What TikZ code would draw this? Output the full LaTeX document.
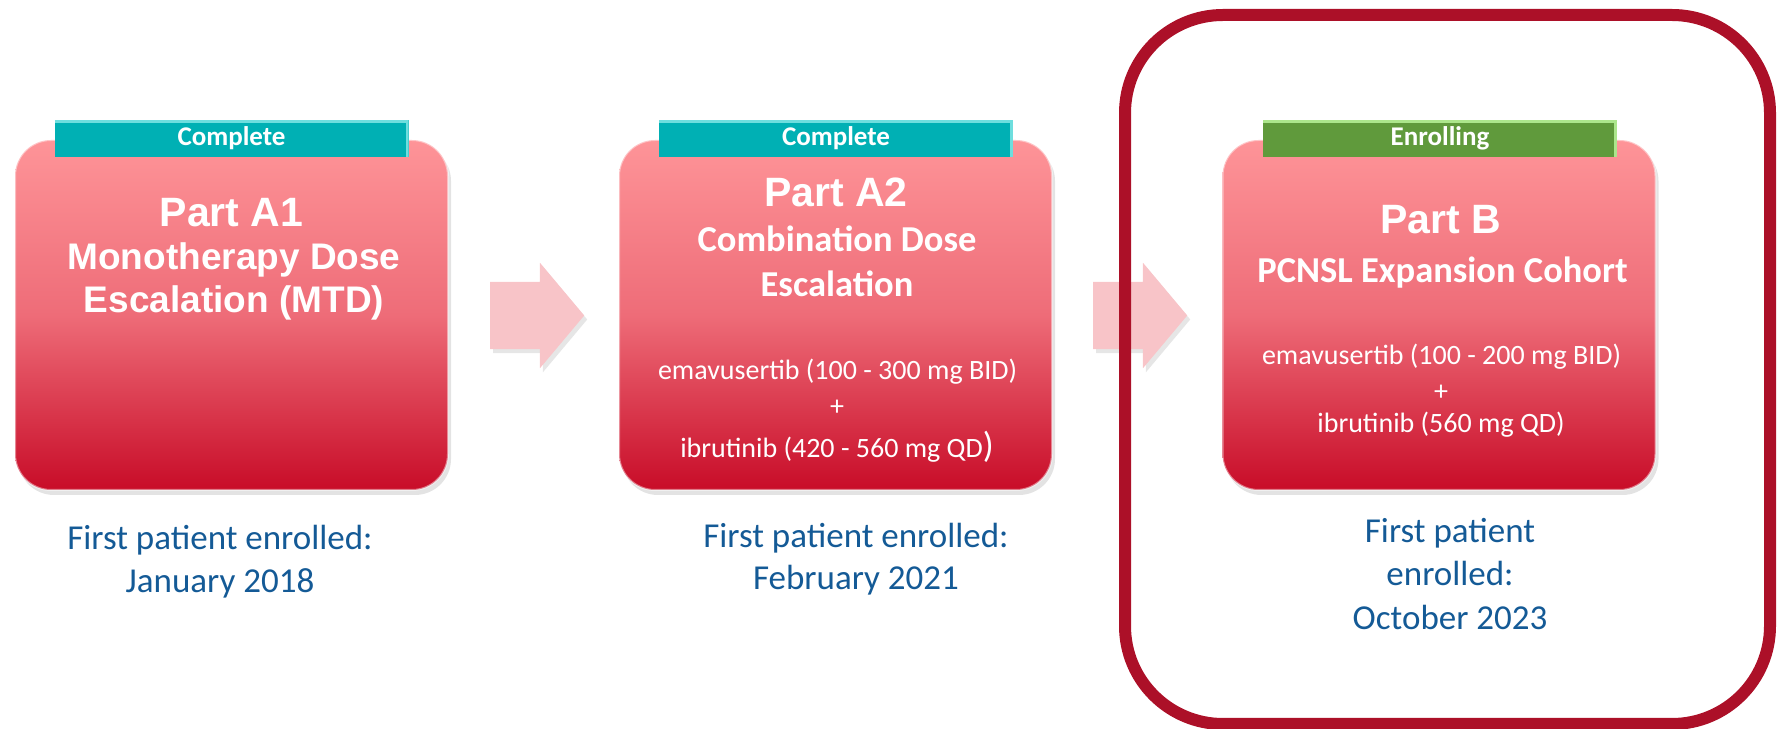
\documentclass[tikz,border=0pt]{standalone}
\usepackage{fontspec}
\setmainfont{Carlito}
\newfontfamily\arialfont{Liberation Sans}
\usetikzlibrary{shapes.arrows, shadows}

\definecolor{boxtop}{RGB}{254,148,152}
\definecolor{boxmid}{RGB}{238,108,120}
\definecolor{boxbot}{RGB}{200,12,40}
\definecolor{tealtag}{RGB}{0,176,180}
\definecolor{tealhi}{RGB}{110,222,222}
\definecolor{greentag}{RGB}{96,154,60}
\definecolor{greenhi}{RGB}{172,230,140}
\definecolor{arrowpink}{RGB}{248,196,200}
\definecolor{framered}{RGB}{172,16,40}
\definecolor{dateblue}{RGB}{20,90,150}

\tikzset{
  partbox/.style={rectangle, rounded corners=36bp, minimum width=433bp, minimum height=350bp,
    inner sep=0pt, top color=boxtop, bottom color=boxbot, middle color=boxmid,
    draw=white, draw opacity=0.45, line width=2bp,
    drop shadow={opacity=0.22, shadow xshift=3bp, shadow yshift=-5bp}},
  statustag/.style 2 args={rectangle, minimum width=354bp, minimum height=37bp, inner sep=0pt,
    fill=#1, text=white, font=\bfseries\fontsize{27bp}{30bp}\selectfont,
    path picture={
      \draw[#2, line width=3bp] ([yshift=-1.5bp]path picture bounding box.north west)
        -- ([yshift=-1.5bp,xshift=-1.5bp]path picture bounding box.north east)
        -- ([xshift=-1.5bp]path picture bounding box.south east);}},
  blockarrow/.style={single arrow, single arrow head extend=19bp, single arrow tip angle=100,
    minimum height=94bp, inner xsep=0pt, inner ysep=33.5bp, fill=arrowpink, anchor=tail,
    drop shadow={opacity=0.2, shadow xshift=3bp, shadow yshift=-4bp}},
  parthead/.style={anchor=base, text=white, font=\arialfont\bfseries\fontsize{41bp}{44bp}\selectfont},
  armtitle/.style={anchor=base, text=white, font=\arialfont\bfseries\fontsize{37bp}{40bp}\selectfont},
  cohorttitle/.style={anchor=base, text=white, font=\bfseries\fontsize{36.5bp}{40bp}\selectfont},
  doseline/.style={anchor=base, text=white, font=\fontsize{28bp}{30bp}\selectfont},
  dateline/.style={anchor=base, text=dateblue, font=\fontsize{35bp}{38bp}\selectfont},
}

\begin{document}
\begin{tikzpicture}
\useasboundingbox (0bp,0bp) rectangle (1777bp,729bp);
%% study parts
\node (part_a1) at (231.5bp,414bp) [partbox] {};
  \node (part_a2) at (835.5bp,414bp) [partbox] {};
  \node (part_b) at (1439bp,414bp) [partbox] {};
  \node (tag_a1) at (231.5bp,590.5bp) [statustag={tealtag}{tealhi}] {Complete};
  \node (tag_a2) at (836bp,590.5bp) [statustag={tealtag}{tealhi}] {Complete};
  \node (tag_b) at (1440bp,590.5bp) [statustag={greentag}{greenhi}] {Enrolling};
  \node (arrow_1) at (490bp,413.5bp) [blockarrow] {};
  \node (arrow_2) at (1093bp,413.5bp) [blockarrow] {};
%% current cohort frame
\node (frame_b) at (1447.5bp,359.5bp) [draw=framered, line width=12bp, rounded corners=98bp,
    minimum width=645bp, minimum height=709bp, inner sep=0pt] {};
%% box texts
\node (head_a1) at (231.5bp,502bp) [parthead] {Part A1};
  \node (title_a1_1) at (234bp,459bp) [armtitle] {Monotherapy Dose};
  \node (title_a1_2) at (234bp,416bp) [armtitle] {Escalation (MTD)};
  \node (head_a2) at (836bp,522bp) [parthead] {Part A2};
  \node (title_a2_1) at (837bp,477bp) [cohorttitle] {Combination Dose};
  \node (title_a2_2) at (837bp,432bp) [cohorttitle] {Escalation};
  \node (dose_a2_1) at (837.5bp,349bp) [doseline] {emavusertib (100 - 300 mg BID)};
  \node (dose_a2_2) at (837bp,313bp) [doseline] {+};
  \node (dose_a2_3) at (837bp,271bp) [doseline] {ibrutinib (420 - 560 mg QD{\fontsize{36bp}{36bp}\selectfont)}};
  \node (head_b) at (1441bp,495bp) [parthead] {Part B};
  \node (title_b_1) at (1442.5bp,446bp) [cohorttitle] {PCNSL Expansion Cohort};
  \node (dose_b_1) at (1441.5bp,364bp) [doseline] {emavusertib (100 - 200 mg BID)};
  \node (dose_b_2) at (1441bp,328bp) [doseline] {+};
  \node (dose_b_3) at (1441bp,296bp) [doseline] {ibrutinib (560 mg QD)};
%% enrolment dates
\node (date_a1_1) at (220bp,179bp) [dateline] {First patient enrolled:};
  \node (date_a1_2) at (220bp,136bp) [dateline] {January 2018};
  \node (date_a2_1) at (856bp,181bp) [dateline] {First patient enrolled:};
  \node (date_a2_2) at (856bp,139bp) [dateline] {February 2021};
  \node (date_b_1) at (1450bp,186bp) [dateline] {First patient};
  \node (date_b_2) at (1450bp,143bp) [dateline] {enrolled:};
  \node (date_b_3) at (1450bp,99bp) [dateline] {October 2023};
%
\end{tikzpicture}
\end{document}
